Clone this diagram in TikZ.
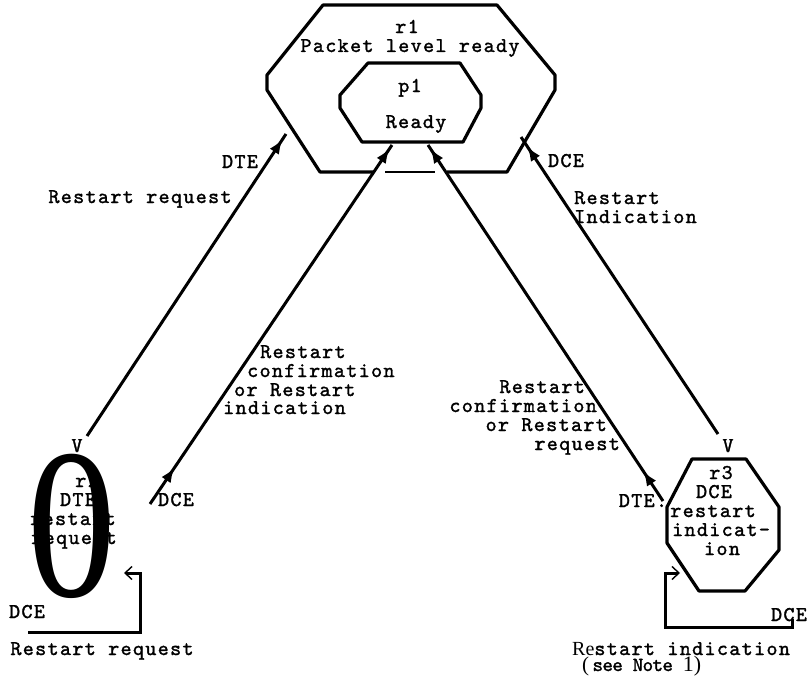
\documentclass[tikz,border=0pt]{standalone}
\usepackage{fontspec}
\setmonofont{lmmono10-regular.otf}[LetterSpace=6.5, FakeBold=1.5]
\newfontfamily\notemono{lmmono10-regular.otf}[LetterSpace=-3, FakeBold=1.5]
\newfontfamily\typeserif{Liberation Serif}
\usetikzlibrary{arrows.meta,decorations.markings}

\tikzset{
  tw/.style={font=\ttfamily\fontsize{21}{19}\selectfont, inner sep=0pt},
  twnote/.style={font=\notemono\fontsize{20}{19}\selectfont, inner sep=0pt},
  outline/.style={line width=3.2pt, line join=round},
  conn/.style={line width=3pt},
  headat/.style={postaction={decorate, decoration={markings,
      mark=at position #1 with {\arrow{Latex[length=15pt,width=11pt]}}}}},
  openhead/.style={-{Straight Barb[length=7pt,width=13pt,line width=1.4pt]}},
}

\begin{document}
\begin{tikzpicture}[x=1pt,y=-1pt]
\useasboundingbox (0,0) rectangle (807,680);

% ---- state r1 (outer hexagon); bottom edge broken where the connectors pass
\draw[outline] (373,172) -- (320,172) -- (267,90) -- (267,75) -- (323,5)
  -- (497,5) -- (555,75) -- (555,90) -- (507,172) -- (447,172);
\draw[outline, line width=2.6pt] (385,172) -- (435,172);
\node[tw, anchor=base] (r1name) at (407,33) {r1};
\node[tw, anchor=base] (r1text) at (410,52) {Packet level ready};

% ---- state p1 (inner hexagon)
\draw[outline] (368,63) -- (460,63) -- (481,95) -- (481,108) -- (463,142)
  -- (362,142) -- (340,108) -- (340,95) -- cycle;
\node[tw, anchor=base] (p1name) at (410,92) {p1};
\node[tw, anchor=base] (p1text) at (416,128) {Ready};

% ---- state r3 (octagon)
\draw[outline] (692,459) -- (746,459) -- (779,507) -- (779,550) -- (745,591)
  -- (699,591) -- (667,543) -- (667,507) -- cycle;
\node[tw, anchor=base] (r3a) at (721,479) {r3};
\node[tw, anchor=base] (r3b) at (714,498) {DCE};
\node[tw, anchor=base] (r3c) at (713,517) {restart};
\node[tw, anchor=base] (r3d) at (721,536) {indicat-};
\node[tw, anchor=base] (r3e) at (722,555) {ion};

% ---- state r2 (text under a large zero)
\node[tw, anchor=base] (r2a) at (87,487) {r2};
\node[tw, anchor=base] (r2b) at (78,506) {DTE};
\node[tw, anchor=base] (r2c) at (73,525) {restart};
\node[tw, anchor=base] (r2d) at (74,544) {request};
\node[inner sep=0pt, xscale=0.83, transform shape,
      font=\typeserif\fontsize{214}{214}\selectfont] (zero) at (72,526) {0};

% ---- connector end points
\coordinate (r1sw) at (286,134);
\coordinate (r2n)  at (87,436);
\coordinate (r1se) at (521,137);
\coordinate (r3n)  at (718,434);
\coordinate (p1sw) at (392,145);
\coordinate (r2e)  at (150,504);
\coordinate (p1se) at (428,145);
\coordinate (r3w)  at (663,501);

% ---- transitions between the states
\draw[conn, headat=-6pt]  (r2n) -- (r1sw);
\draw[conn, headat=-11pt] (r3n) -- (r1se);
\draw[conn, headat=44pt, headat=-4pt] (r2e) -- (p1sw);
\draw[conn, headat=36pt, headat=-4pt] (r3w) -- (p1se);

\node[tw, anchor=base] (vleft)  at (77,452)  {V};
\node[tw, anchor=base] (vright) at (728,452) {V};

% ---- labels on the transitions
\node[tw, anchor=base] (dte1) at (240,168) {DTE};
\node[tw, anchor=base] (rq1)  at (140,203) {Restart request};
\node[tw, anchor=base] (dce1) at (566,167) {DCE};
\node[tw, anchor=base west] (ri1) at (574,204) {Restart};
\node[tw, anchor=base west] (ri2) at (574,223) {Indication};

\node[tw, anchor=base west] (lc1) at (260,358) {Restart};
\node[tw, anchor=base west] (lc2) at (247,377) {confirmation};
\node[tw, anchor=base west] (lc3) at (234,396) {or Restart};
\node[tw, anchor=base west] (lc4) at (223,414) {indication};

\node[tw, anchor=base east] (rc1) at (585,393) {Restart};
\node[tw, anchor=base east] (rc2) at (597,412) {confirmation};
\node[tw, anchor=base east] (rc3) at (607,431) {or Restart};
\node[tw, anchor=base east] (rc4) at (620,450) {request};

\node[tw, anchor=base] (dce2) at (176,506) {DCE};
\node[tw, anchor=base] (dte2) at (643,507) {DTE.};

% ---- self loops
\coordinate (l0) at (28,632);
\coordinate (l1) at (140,632);
\coordinate (l2) at (140,573);
\coordinate (r2in) at (124,573);
\draw[conn, openhead] (l0) -- (l1) -- (l2) -- (r2in);
\node[tw, anchor=base] (dce3) at (27,618) {DCE};
\node[tw, anchor=base] (rq3) at (102,655) {Restart request};

\coordinate (m0) at (792,619);
\coordinate (m1) at (792,627);
\coordinate (m2) at (665,627);
\coordinate (m3) at (665,573);
\coordinate (r3in) at (680,573);
\draw[conn, openhead] (m0) -- (m1) -- (m2) -- (m3) -- (r3in);
\node[tw, anchor=base] (dce4) at (789,621) {DCE};
\node[tw, anchor=base west] (ri3) at (572,655)
  {{\typeserif\fontsize{20}{19}\selectfont Re}start indication};
\node[twnote, anchor=base west] (note) at (582,671)
  {{\typeserif\fontsize{21}{19}\selectfont (}\,see Note {\typeserif\fontsize{22}{19}\selectfont 1)}};
\end{tikzpicture}
\end{document}
